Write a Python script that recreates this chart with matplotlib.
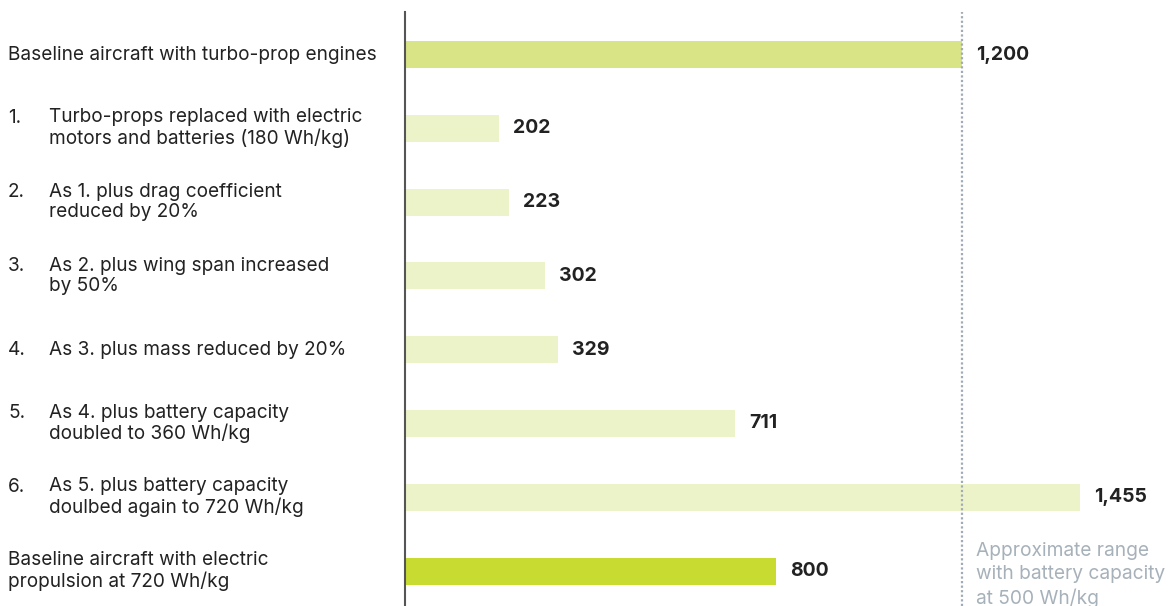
import matplotlib
matplotlib.use("Agg")
import matplotlib.pyplot as plt

labels_num = ["", "1.", "2.", "3.", "4.", "5.", "6.", ""]
labels_text = [
    "Baseline aircraft with turbo-prop engines",
    "Turbo-props replaced with electric\nmotors and batteries (180 Wh/kg)",
    "As 1. plus drag coefficient\nreduced by 20%",
    "As 2. plus wing span increased\nby 50%",
    "As 3. plus mass reduced by 20%",
    "As 4. plus battery capacity\ndoubled to 360 Wh/kg",
    "As 5. plus battery capacity\ndoulbed again to 720 Wh/kg",
    "Baseline aircraft with electric\npropulsion at 720 Wh/kg",
]
values = [1200, 202, 223, 302, 329, 711, 1455, 800]
value_labels = ["1,200", "202", "223", "302", "329", "711", "1,455", "800"]
ref_value = 1200
ref_text = "Approximate range\nwith battery capacity\nat 500 Wh/kg"

colors = ["#d9e487"] + ["#edf3c8"] * 6 + ["#c8db30"]

plt.rcParams['font.family'] = ['Inter', 'DejaVu Sans']
FS = 13.7

W, H = 1171, 606
fig = plt.figure(figsize=(W / 100, H / 100), dpi=100)
left_px = 405
ax = fig.add_axes([left_px / W, 0, (W - left_px) / W, 1 - 12 / H])
ax.set_xlim(0, (W - left_px) / 0.4642)
step = 73.8
ax.set_ylim((606 - 54.5) / step, -(54.5 - 12) / step)

ys = list(range(len(values)))
ax.barh(ys, values, height=27 / step, color=colors, left=0)

for y, v, t in zip(ys, values, value_labels):
    ax.annotate(t, (v, y), xytext=(14, 0), textcoords="offset pixels",
                ha="left", va="center", fontsize=14, fontweight="bold",
                color="#222222")

ax.axvline(ref_value, color="#a0abb6", lw=1.6, ls=(0, (1, 1.05)),
           zorder=3, dash_capstyle="butt")
ax.annotate(ref_text, (ref_value, (542 - 54.5) / step), xytext=(14, 0),
            textcoords="offset pixels", ha="left", va="top", fontsize=13.8,
            color="#a6b1ba", linespacing=1.36, annotation_clip=False)

for s in ["top", "right", "bottom"]:
    ax.spines[s].set_visible(False)
ax.spines["left"].set_color("#555555")
ax.spines["left"].set_linewidth(1.5)
ax.set_xticks([])
ax.set_yticks([])

for y, n, t in zip(ys, labels_num, labels_text):
    ypx = 54.5 + step * y
    yf = 1 - ypx / H
    nlines = t.count("\n") + 1
    if n:
        fig.text(8 / W, yf, n + "\n" * (nlines - 1), ha="left", va="center",
                 fontsize=FS, color="#222222", linespacing=1.16)
        fig.text(49 / W, yf, t, ha="left", va="center", fontsize=FS,
                 color="#222222", linespacing=1.16)
    else:
        fig.text(8 / W, yf, t, ha="left", va="center", fontsize=FS,
                 color="#222222", linespacing=1.16)

fig.savefig("out.png", dpi=100)
